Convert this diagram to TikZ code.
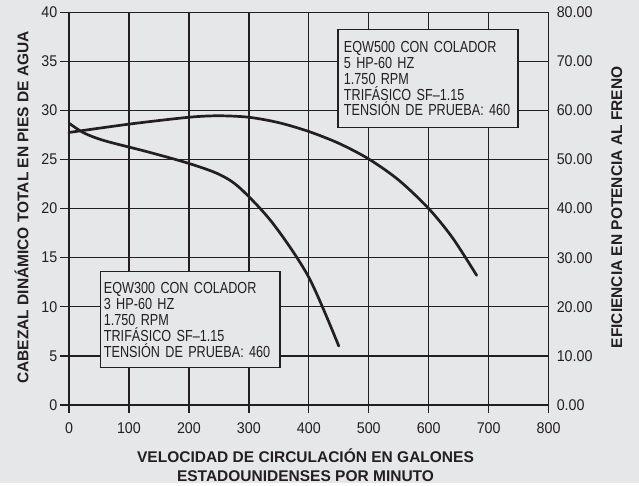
\documentclass[tikz,border=0pt]{standalone}
\usepackage{fontspec}
\setmainfont{Liberation Sans}
\newfontfamily\boxfont[FakeStretch=0.79]{Liberation Sans}
\newfontfamily\numfont[FakeStretch=0.92]{Liberation Sans}
\usepackage{tikz}
\definecolor{panel}{HTML}{E6E7E8}
\definecolor{ink}{HTML}{231F20}

\begin{document}
\begin{tikzpicture}[x=0.5995pt, y=9.82pt, ink,
                    gridline/.style={draw=ink, line width=1.3pt},
                    curve/.style={draw=ink, line width=2.7pt, line cap=round},
                    infobox/.style={draw=ink, line width=1.2pt, fill=panel, align=left, anchor=north west,
                                    font=\boxfont\fontsize{16}{15.9}\selectfont},
                    ticklabel/.style={inner sep=0pt, font=\numfont\fontsize{15.5}{15.5}\selectfont},
                    axistitle/.style={align=center, font=\bfseries\fontsize{15.5}{19}\selectfont}]

                    \fill[panel] (-69pt,-78pt) rectangle (570pt,405pt);

                    % grid
                    \foreach \x in {0,100,...,800} {
                        \draw[gridline] (\x,-0.82) -- (\x,40);
                        \node[ticklabel, yshift=-22.7pt] (xl\x) at (\x,0) {\x};
                    }
                    \foreach \y/\e in {0/0.00,5/10.00,10/20.00,15/30.00,20/40.00,25/50.00,30/60.00,35/70.00,40/80.00} {
                        \draw[gridline] (-15,\y) -- (800,\y);
                        \node[ticklabel, anchor=east, xshift=-11.5pt] (yl\y) at (0,\y) {\y};
                        \node[ticklabel, anchor=west, xshift=8pt] (el\y) at (800,\y) {\e};
                    }

                    % curves
                    \draw[curve] plot[smooth] coordinates {(0,27.75) (100,28.6) (200,29.3) (250,29.45) (300,29.3)
                        (350,28.75) (400,27.85) (450,26.65) (500,25.05) (550,22.9) (600,20.0) (640,17.0) (680,13.2)};
                    \draw[curve] plot[smooth] coordinates {(0,28.7) (25,27.7) (60,26.9) (130,25.8) (200,24.6)
                        (250,23.5) (285,22.1) (340,18.5) (400,13.0) (450,6.0)};

                    % boxes
                    \node[infobox, text width=168pt, inner xsep=6pt, minimum height=97.4pt] (box500) at (268.3pt,375.7pt)
                        {EQW500 CON COLADOR\\5 HP-60 HZ\\1.750 RPM\\TRIFÁSICO SF–1.15\\TENSIÓN DE PRUEBA: 460};
                    \node[infobox, text width=172.4pt, inner xsep=3.6pt, minimum height=96.3pt] (box300) at (30.7pt,134pt)
                        {EQW300 CON COLADOR\\3 HP-60 HZ\\1.750 RPM\\TRIFÁSICO SF–1.15\\TENSIÓN DE PRUEBA: 460};

                    % titles
                    \node[axistitle] (xtitle) at (236.5pt,-60.5pt)
                        {VELOCIDAD DE CIRCULACIÓN EN GALONES\\ESTADOUNIDENSES POR MINUTO};
                    \node[axistitle, rotate=90] (ytitle) at (-47.3pt,197.5pt) {CABEZAL DINÁMICO TOTAL EN PIES DE AGUA};
                    \node[axistitle, rotate=90] (etitle) at (547.7pt,197.6pt) {EFICIENCIA EN POTENCIA AL FRENO};
\end{tikzpicture}
\end{document}
